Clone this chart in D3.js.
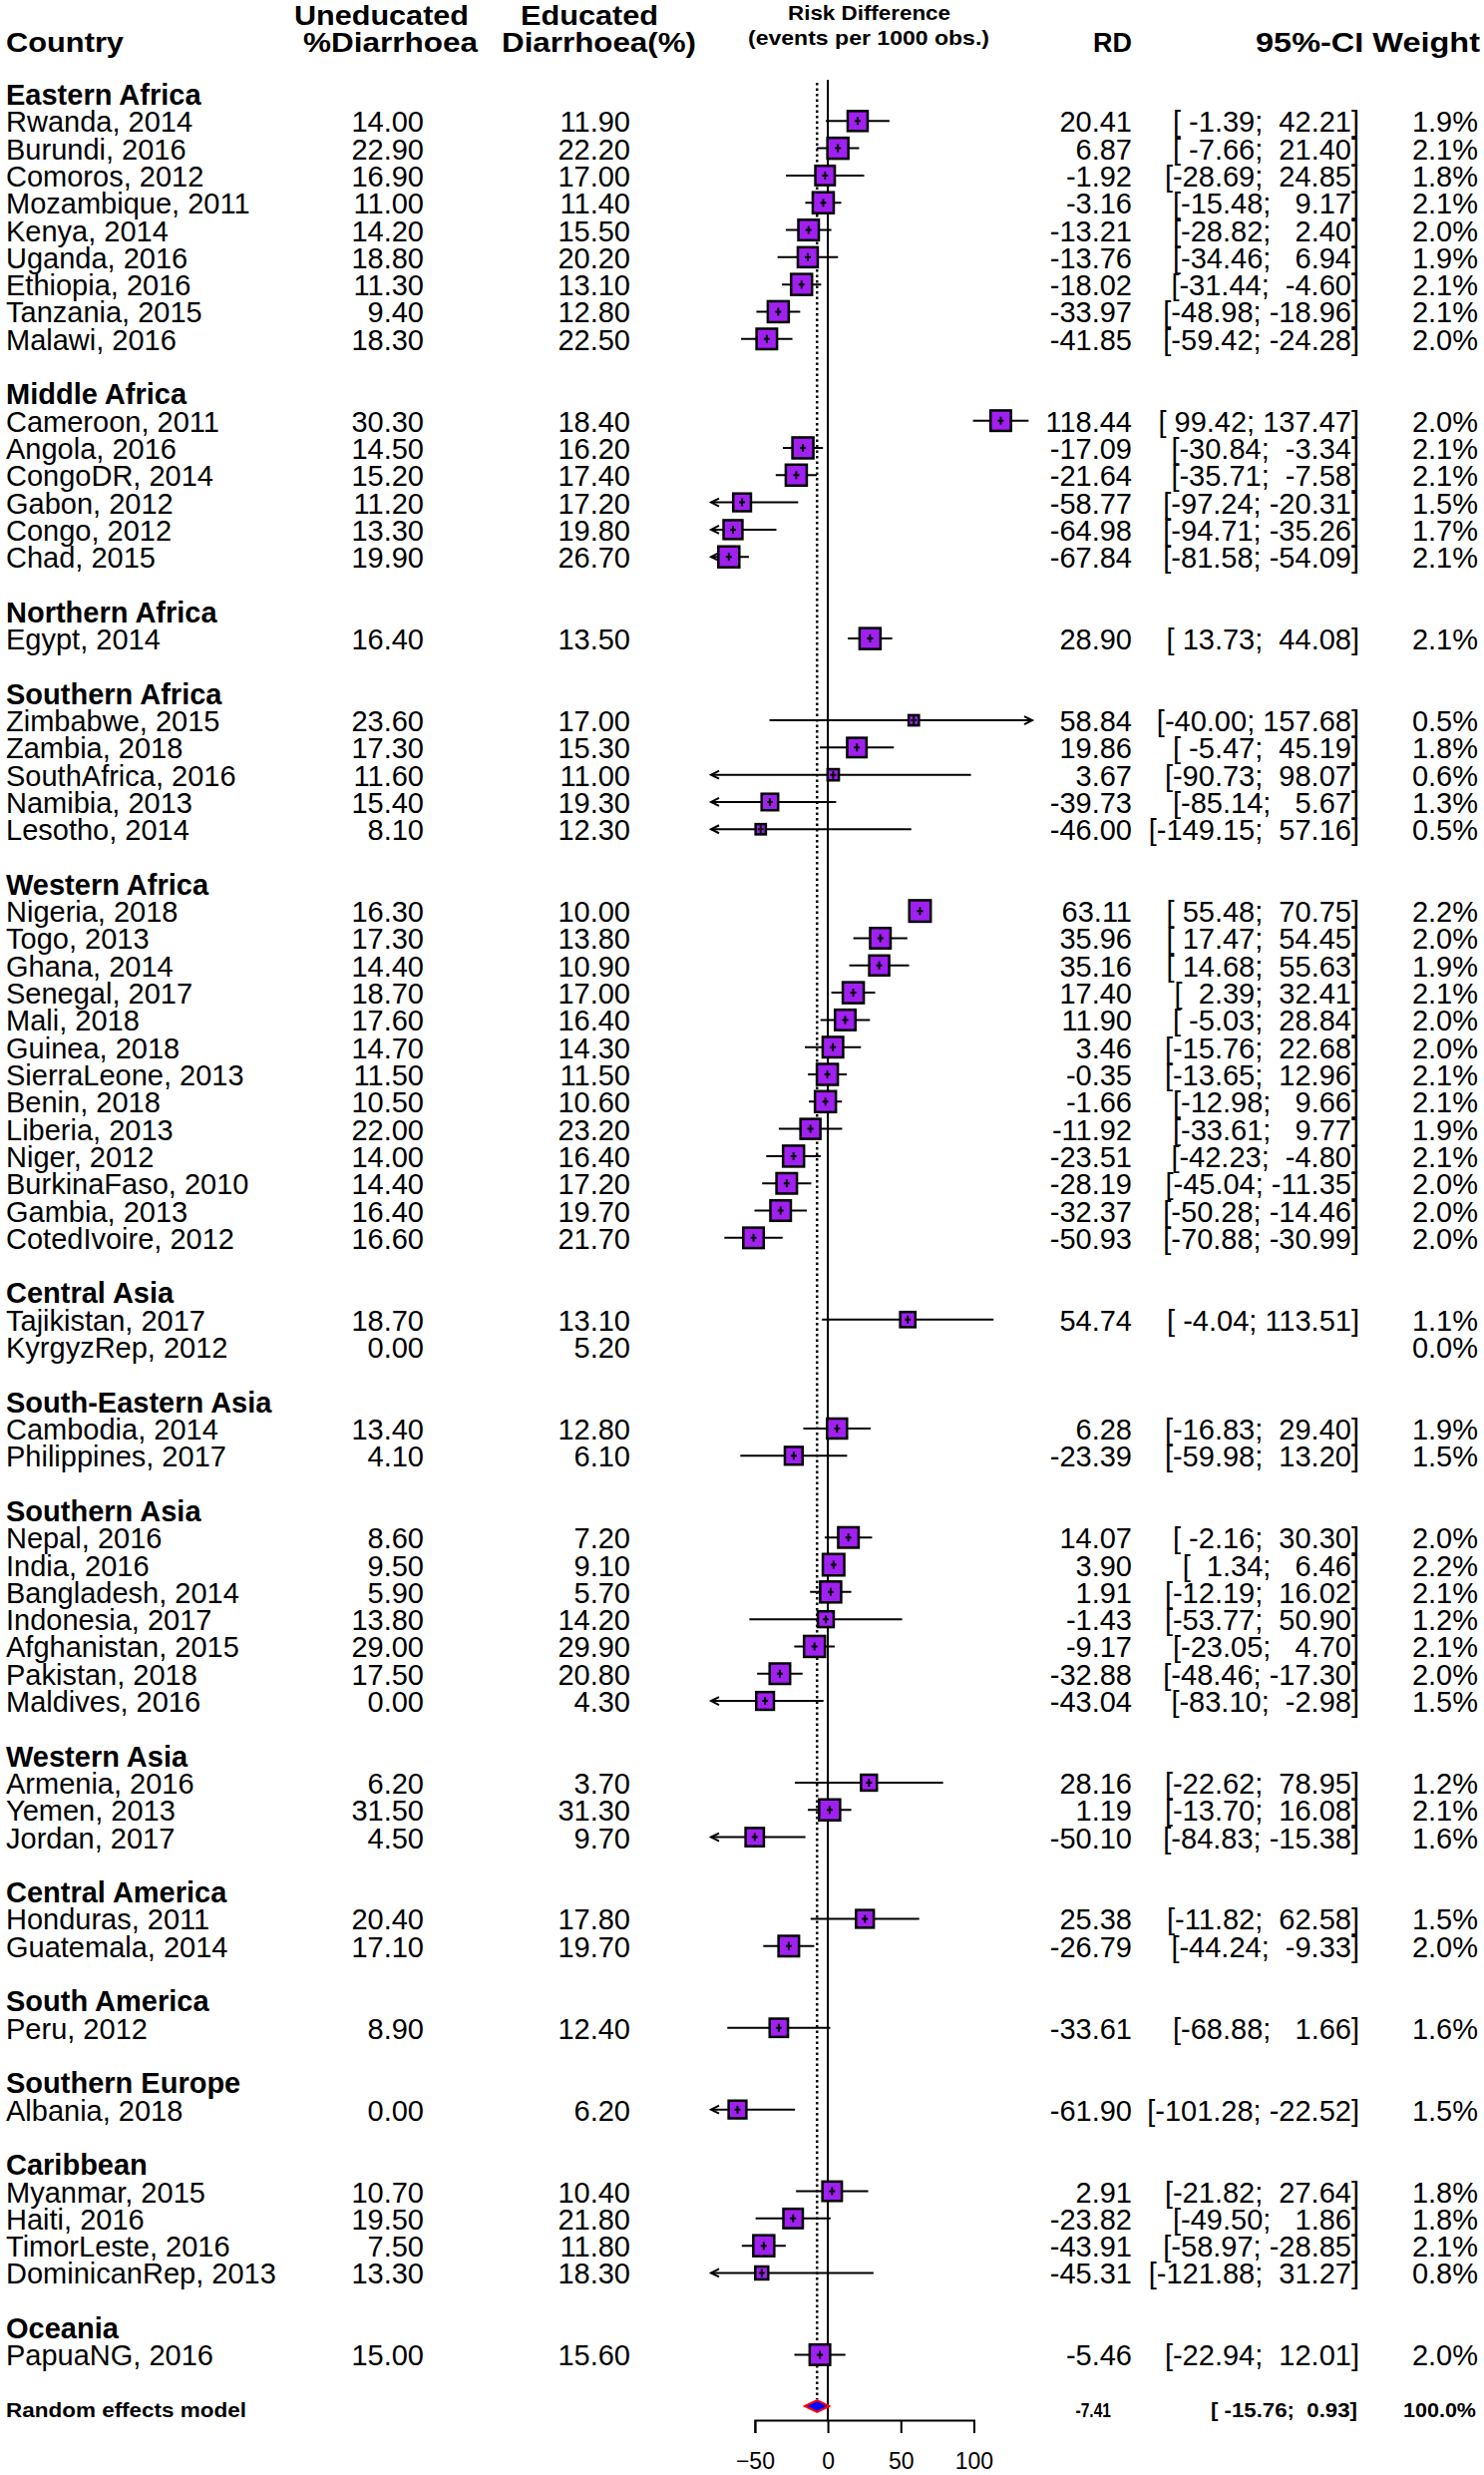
<!DOCTYPE html>
<html>
<head>
<meta charset="utf-8">
<script src="https://cdn.jsdelivr.net/npm/d3@7"></script>
<style>
body { margin: 0; background: #fff; }
text { font-family: "Liberation Sans", Arial, sans-serif; white-space: pre; fill: #000; }
</style>
</head>
<body>
<svg id="chart" width="1488" height="2481"></svg>
<script>
// subgroup headings and how many studies sit under each
var regions = ["Eastern Africa", "Middle Africa", "Northern Africa", "Southern Africa", "Western Africa",
    "Central Asia", "South-Eastern Asia", "Southern Asia", "Western Asia", "Central America",
    "South America", "Southern Europe", "Caribbean", "Oceania"];
var regionCounts = [9, 6, 1, 5, 13, 2, 2, 7, 3, 2, 1, 1, 4, 1];

var countries = ["Rwanda, 2014", "Burundi, 2016", "Comoros, 2012", "Mozambique, 2011", "Kenya, 2014",
    "Uganda, 2016", "Ethiopia, 2016", "Tanzania, 2015", "Malawi, 2016",
    "Cameroon, 2011", "Angola, 2016", "CongoDR, 2014", "Gabon, 2012", "Congo, 2012", "Chad, 2015",
    "Egypt, 2014",
    "Zimbabwe, 2015", "Zambia, 2018", "SouthAfrica, 2016", "Namibia, 2013", "Lesotho, 2014",
    "Nigeria, 2018", "Togo, 2013", "Ghana, 2014", "Senegal, 2017", "Mali, 2018", "Guinea, 2018",
    "SierraLeone, 2013", "Benin, 2018", "Liberia, 2013", "Niger, 2012", "BurkinaFaso, 2010",
    "Gambia, 2013", "CotedIvoire, 2012",
    "Tajikistan, 2017", "KyrgyzRep, 2012",
    "Cambodia, 2014", "Philippines, 2017",
    "Nepal, 2016", "India, 2016", "Bangladesh, 2014", "Indonesia, 2017", "Afghanistan, 2015",
    "Pakistan, 2018", "Maldives, 2016",
    "Armenia, 2016", "Yemen, 2013", "Jordan, 2017",
    "Honduras, 2011", "Guatemala, 2014",
    "Peru, 2012",
    "Albania, 2018",
    "Myanmar, 2015", "Haiti, 2016", "TimorLeste, 2016", "DominicanRep, 2013",
    "PapuaNG, 2016"];

var uneducated = [14.0, 22.9, 16.9, 11.0, 14.2, 18.8, 11.3, 9.4, 18.3,
    30.3, 14.5, 15.2, 11.2, 13.3, 19.9,
    16.4,
    23.6, 17.3, 11.6, 15.4, 8.1,
    16.3, 17.3, 14.4, 18.7, 17.6, 14.7, 11.5, 10.5, 22.0, 14.0, 14.4, 16.4, 16.6,
    18.7, 0.0,
    13.4, 4.1,
    8.6, 9.5, 5.9, 13.8, 29.0, 17.5, 0.0,
    6.2, 31.5, 4.5,
    20.4, 17.1,
    8.9,
    0.0,
    10.7, 19.5, 7.5, 13.3,
    15.0];

var educated = [11.9, 22.2, 17.0, 11.4, 15.5, 20.2, 13.1, 12.8, 22.5,
    18.4, 16.2, 17.4, 17.2, 19.8, 26.7,
    13.5,
    17.0, 15.3, 11.0, 19.3, 12.3,
    10.0, 13.8, 10.9, 17.0, 16.4, 14.3, 11.5, 10.6, 23.2, 16.4, 17.2, 19.7, 21.7,
    13.1, 5.2,
    12.8, 6.1,
    7.2, 9.1, 5.7, 14.2, 29.9, 20.8, 4.3,
    3.7, 31.3, 9.7,
    17.8, 19.7,
    12.4,
    6.2,
    10.4, 21.8, 11.8, 18.3,
    15.6];

var rd = [20.41, 6.87, -1.92, -3.16, -13.21, -13.76, -18.02, -33.97, -41.85,
    118.44, -17.09, -21.64, -58.77, -64.98, -67.84,
    28.90,
    58.84, 19.86, 3.67, -39.73, -46.00,
    63.11, 35.96, 35.16, 17.40, 11.90, 3.46, -0.35, -1.66, -11.92, -23.51, -28.19, -32.37, -50.93,
    54.74, null,
    6.28, -23.39,
    14.07, 3.90, 1.91, -1.43, -9.17, -32.88, -43.04,
    28.16, 1.19, -50.10,
    25.38, -26.79,
    -33.61,
    -61.90,
    2.91, -23.82, -43.91, -45.31,
    -5.46];

var ciLower = [-1.39, -7.66, -28.69, -15.48, -28.82, -34.46, -31.44, -48.98, -59.42,
    99.42, -30.84, -35.71, -97.24, -94.71, -81.58,
    13.73,
    -40.00, -5.47, -90.73, -85.14, -149.15,
    55.48, 17.47, 14.68, 2.39, -5.03, -15.76, -13.65, -12.98, -33.61, -42.23, -45.04, -50.28, -70.88,
    -4.04, null,
    -16.83, -59.98,
    -2.16, 1.34, -12.19, -53.77, -23.05, -48.46, -83.10,
    -22.62, -13.70, -84.83,
    -11.82, -44.24,
    -68.88,
    -101.28,
    -21.82, -49.50, -58.97, -121.88,
    -22.94];

var ciUpper = [42.21, 21.40, 24.85, 9.17, 2.40, 6.94, -4.60, -18.96, -24.28,
    137.47, -3.34, -7.58, -20.31, -35.26, -54.09,
    44.08,
    157.68, 45.19, 98.07, 5.67, 57.16,
    70.75, 54.45, 55.63, 32.41, 28.84, 22.68, 12.96, 9.66, 9.77, -4.80, -11.35, -14.46, -30.99,
    113.51, null,
    29.40, 13.20,
    30.30, 6.46, 16.02, 50.90, 4.70, -17.30, -2.98,
    78.95, 16.08, -15.38,
    62.58, -9.33,
    1.66,
    -22.52,
    27.64, 1.86, -28.85, 31.27,
    12.01];

var weights = [1.9, 2.1, 1.8, 2.1, 2.0, 1.9, 2.1, 2.1, 2.0,
    2.0, 2.1, 2.1, 1.5, 1.7, 2.1,
    2.1,
    0.5, 1.8, 0.6, 1.3, 0.5,
    2.2, 2.0, 1.9, 2.1, 2.0, 2.0, 2.1, 2.1, 1.9, 2.1, 2.0, 2.0, 2.0,
    1.1, 0.0,
    1.9, 1.5,
    2.0, 2.2, 2.1, 1.2, 2.1, 2.0, 1.5,
    1.2, 2.1, 1.6,
    1.5, 2.0,
    1.6,
    1.5,
    1.8, 1.8, 2.1, 0.8,
    2.0];

// random effects model: estimate, lower, upper
var pooled = [-7.41, -15.76, 0.93];
var xTicks = [-50, 0, 50, 100];

var svg = d3.select("#chart");

// one row per heading, study, blank line and the pooled line
var rows = [];
var k = 0, s = 0;
regions.forEach(function (r, i) {
    rows.push({ type: "head", label: r, row: k });
    k++;
    for (var j = 0; j < regionCounts[i]; j++) {
        rows.push({ type: "study", i: s, row: k });
        s++; k++;
    }
    k++;
});
var pooledRow = k;

var y = d3.scaleLinear().domain([0, pooledRow]).range([95, 2416]);
var x = d3.scaleLinear().domain([-80, 140]).range([713, 1035]);

var colCountry = 6, colUned = 425, colEdu = 632, colRD = 1135, colCI = 1363, colW = 1482;
var fs = 29;

function pad(v, w) {
    var t = v.toFixed(2);
    while (t.length < w) t = " " + t;
    return t;
}

// header
var head = svg.append("g").attr("font-weight", "bold");
function headText(str, x0, base, size, len) {
    head.append("text").attr("x", x0).attr("y", base).attr("font-size", size)
        .attr("textLength", len).attr("lengthAdjust", "spacingAndGlyphs").text(str);
}
headText("Country", 6, 52, 27, 118);
headText("Uneducated", 295, 25, 27, 175);
headText("%Diarrhoea", 304, 52, 27, 175);
headText("Educated", 522, 25, 27, 138);
headText("Diarrhoea(%)", 503, 52, 27, 195);
headText("Risk Difference", 790, 20, 21, 163);
headText("(events per 1000 obs.)", 750, 45, 21, 242);
headText("RD", 1096, 52, 27, 39);
headText("95%-CI Weight", 1259, 52, 27, 225);

// reference lines
svg.append("line")
    .attr("x1", x(0)).attr("x2", x(0)).attr("y1", 80).attr("y2", 2426)
    .attr("stroke", "#000").attr("stroke-width", 2);
svg.append("line")
    .attr("x1", x(pooled[0])).attr("x2", x(pooled[0])).attr("y1", 83).attr("y2", 2405)
    .attr("stroke", "#000").attr("stroke-width", 2.5).attr("stroke-dasharray", "2.5,3");

// text columns
var txt = svg.append("g").attr("font-size", fs);
rows.forEach(function (d) {
    var base = y(d.row) + 10;
    if (d.type === "head") {
        txt.append("text").attr("x", colCountry).attr("y", base).attr("font-weight", "bold").text(d.label);
        return;
    }
    var i = d.i;
    txt.append("text").attr("x", colCountry).attr("y", base).text(countries[i]);
    txt.append("text").attr("x", colUned).attr("y", base).attr("text-anchor", "end").text(uneducated[i].toFixed(2));
    txt.append("text").attr("x", colEdu).attr("y", base).attr("text-anchor", "end").text(educated[i].toFixed(2));
    if (rd[i] !== null) {
        txt.append("text").attr("x", colRD).attr("y", base).attr("text-anchor", "end").text(rd[i].toFixed(2));
        txt.append("text").attr("x", colCI).attr("y", base).attr("text-anchor", "end")
            .text("[" + pad(ciLower[i], 6) + "; " + pad(ciUpper[i], 6) + "]");
    }
    txt.append("text").attr("x", colW).attr("y", base).attr("text-anchor", "end").text(weights[i].toFixed(1) + "%");
});

// study marks
var marks = svg.append("g");
var xmin = x.domain()[0], xmax = x.domain()[1];
rows.filter(function (d) { return d.type === "study" && rd[d.i] !== null; }).forEach(function (d) {
    var i = d.i, cy = y(d.row) - 1;
    var lo = Math.max(ciLower[i], xmin), hi = Math.min(ciUpper[i], xmax);
    marks.append("line").attr("x1", x(lo)).attr("x2", x(hi)).attr("y1", cy).attr("y2", cy)
        .attr("stroke", "#000").attr("stroke-width", 2);
    if (ciLower[i] < xmin) {
        marks.append("path").attr("d", "M" + (x(xmin) + 8) + "," + (cy - 4) + "L" + x(xmin) + "," + cy + "L" + (x(xmin) + 8) + "," + (cy + 4))
            .attr("fill", "none").attr("stroke", "#000").attr("stroke-width", 2);
    }
    if (ciUpper[i] > xmax) {
        marks.append("path").attr("d", "M" + (x(xmax) - 8) + "," + (cy - 4) + "L" + x(xmax) + "," + cy + "L" + (x(xmax) - 8) + "," + (cy + 4))
            .attr("fill", "none").attr("stroke", "#000").attr("stroke-width", 2);
    }
    var side = 14.5 * Math.sqrt(weights[i]);
    var cx = x(rd[i]);
    marks.append("rect").attr("x", cx - side / 2).attr("y", cy - side / 2)
        .attr("width", side).attr("height", side)
        .attr("fill", "#A020F0").attr("stroke", "#000").attr("stroke-width", 2.5);
    marks.append("path").attr("d", "M" + (cx - 3) + "," + cy + "H" + (cx + 3) + "M" + cx + "," + (cy - 4) + "V" + (cy + 4))
        .attr("stroke", "#000").attr("stroke-width", 2);
});

// pooled diamond
var py = 2412;
svg.append("path")
    .attr("d", "M" + x(pooled[1]) + "," + py + "L" + x(pooled[0]) + "," + (py - 6) +
        "L" + x(pooled[2]) + "," + py + "L" + x(pooled[0]) + "," + (py + 6) + "Z")
    .attr("fill", "#0000FF").attr("stroke", "#FF0000").attr("stroke-width", 2);

var pg = svg.append("g").attr("font-weight", "bold");
function pooledText(str, x0, len) {
    pg.append("text").attr("x", x0).attr("y", 2423).attr("font-size", 20)
        .attr("textLength", len).attr("lengthAdjust", "spacingAndGlyphs").text(str);
}
pooledText("Random effects model", 6, 241);
pg.append("text").attr("transform", "translate(1114,2423) scale(0.78,1)")
    .attr("text-anchor", "end").attr("font-size", 20).text(pooled[0].toFixed(2));
pooledText("[ " + pooled[1].toFixed(2) + ";  " + pooled[2].toFixed(2) + "]", 1214, 147);
pooledText("100.0%", 1407, 73);

// axis
var xa = x.copy().domain([-50, 100]).range([x(-50), x(100)]);
var axis = svg.append("g").attr("transform", "translate(0,2426)")
    .call(d3.axisBottom(xa).tickValues(xTicks).tickSize(13).tickPadding(20).tickFormat(d3.format("d")));
axis.selectAll("path, line").attr("stroke", "#000").attr("stroke-width", 2);
axis.selectAll("text").attr("font-size", 23).attr("font-family", "Liberation Sans, Arial, sans-serif").attr("fill", "#000");
</script>
</body>
</html>
